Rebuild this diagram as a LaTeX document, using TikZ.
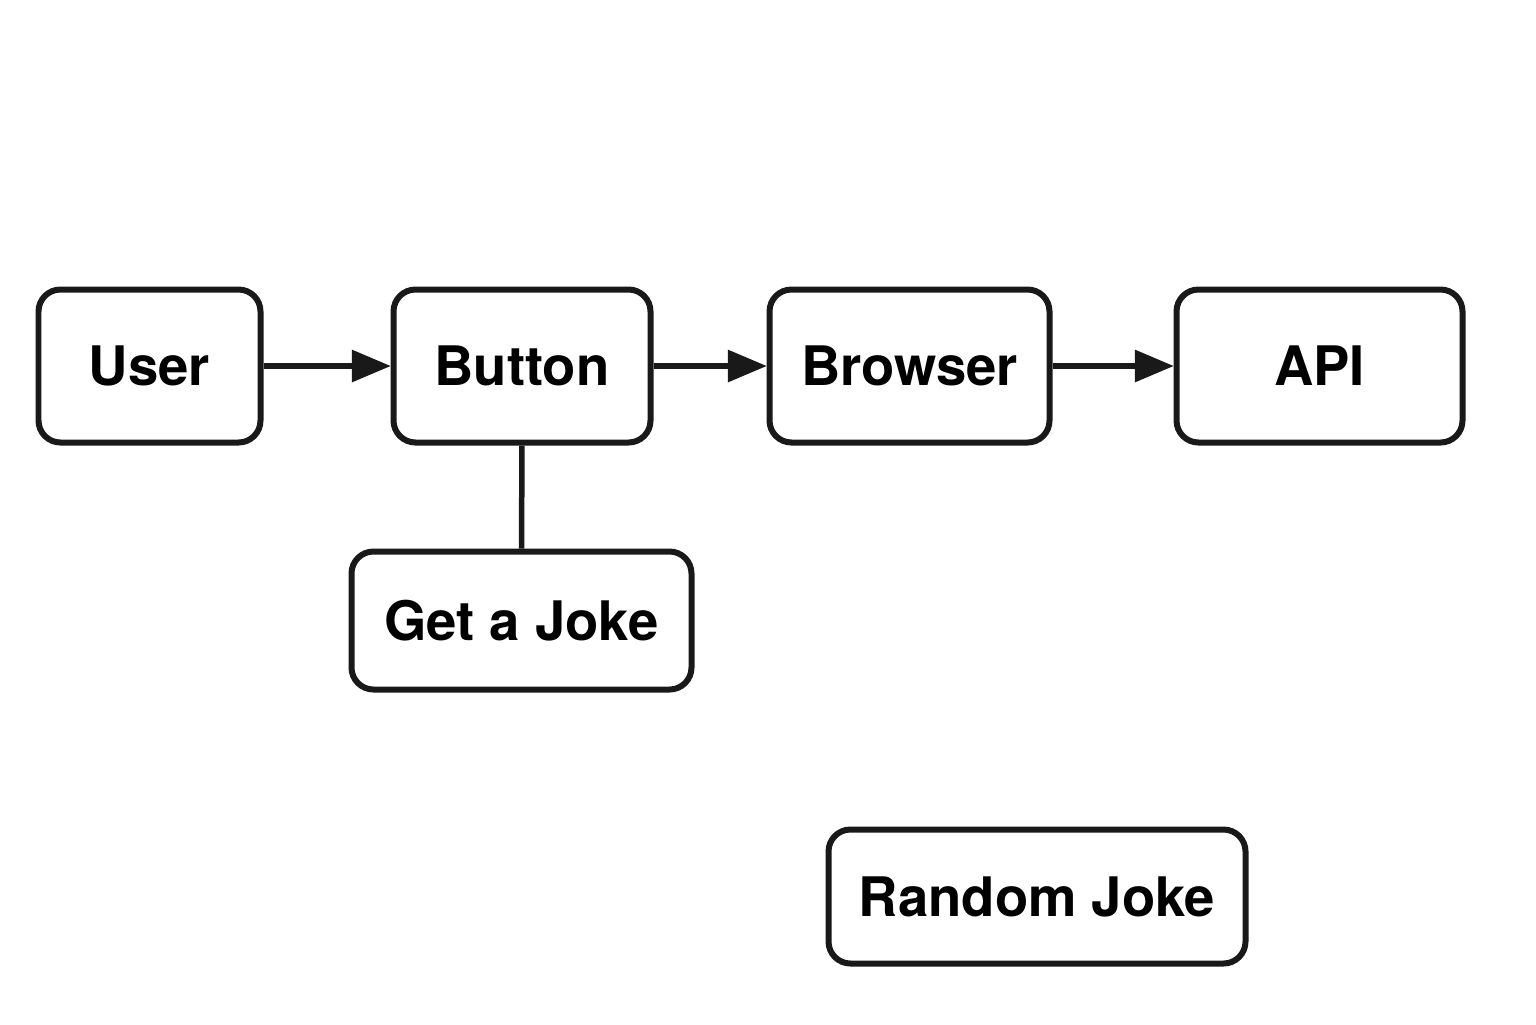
\documentclass[tikz,border=0pt]{standalone}
\usepackage{fontspec}
\setmainfont{TeX Gyre Heros}
\usepackage{tikz}
\usetikzlibrary{arrows}

\begin{document}
\begin{tikzpicture}[>=triangle 45]
	\tikzset{box/.style={draw=black!90,line width=.06cm,rounded corners=.22cm,
		inner sep=0pt,minimum height=1.53cm,font=\fontsize{15.5}{18}\selectfont\bfseries}}
	\useasboundingbox (0,0) rectangle (15.36,-10.24);

	\path (1.495,-3.66) node[box,minimum width=2.22cm] (user) {User};
	\path (5.22,-3.66) node[box,minimum width=2.57cm] (button) {Button};
	\path (9.095,-3.66) node[box,minimum width=2.80cm] (browser) {Browser};
	\path (13.195,-3.66) node[box,minimum width=2.86cm] (api) {API};
	\path (5.215,-6.205) node[box,minimum width=3.40cm,minimum height=1.38cm] (getjoke) {Get a Joke};
	\path (10.37,-8.965) node[box,minimum width=4.17cm,minimum height=1.34cm] (random) {Random Joke};

	\draw[->,line width=.055cm,black!90] (user) -- (button);
	\draw[->,line width=.055cm,black!90] (button) -- (browser);
	\draw[->,line width=.055cm,black!90] (browser) -- (api);
	\draw[line width=.055cm,black!90] (button) -- (getjoke);

\end{tikzpicture}
\end{document}
